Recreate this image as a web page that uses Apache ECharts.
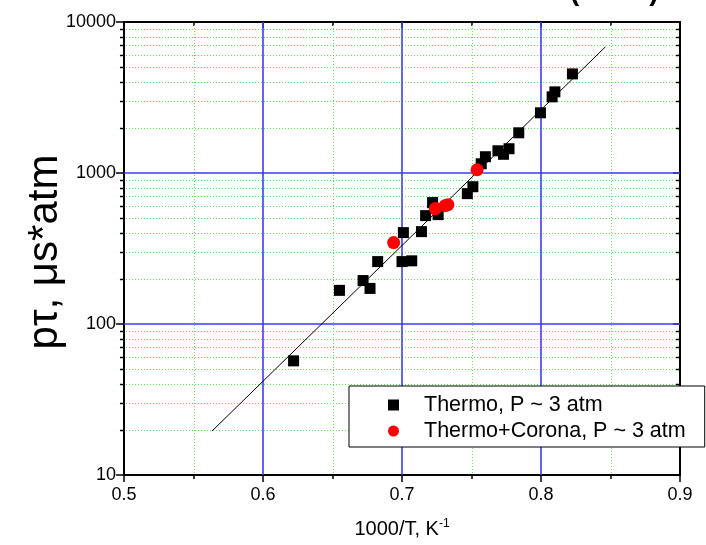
<!DOCTYPE html>
<html>
<head>
<meta charset="utf-8">
<script src="https://cdn.jsdelivr.net/npm/echarts@6/dist/echarts.min.js"></script>
<style>html,body{margin:0;padding:0;background:#fff}#c{width:706px;height:545px}</style>
</head>
<body>
<div id="c"></div>
<script>
const thermoX = [0.622,0.655,0.672,0.677,0.6825,0.701,0.700,0.707,0.714,0.717,0.722,0.726,0.747,0.751,0.757,0.760,0.769,0.773,0.777,0.784,0.7996,0.808,0.810,0.8226];
const thermoY = [57,167,194,172,259,403,259,262,409,522,637,530,730,811,1151,1282,1403,1330,1448,1846,2504,3194,3445,4532];
const coronaX = [0.694,0.724,0.731,0.733,0.754];
const coronaY = [346,581,608,617,1051];
const fitX = [0.5632,0.8463];
const fitY = [19.5,6840];
const xMajorGrid = [0.6,0.7,0.8];
const yMajorGrid = [100,1000];
const xMinor = [0.55,0.65,0.75,0.85];
const yMinor = [20,30,40,50,60,70,80,90,200,300,400,500,600,700,800,900,2000,3000,4000,5000,6000,7000,8000,9000];
const seriesNames = ['Thermo, P ~ 3 atm','Thermo+Corona, P ~ 3 atm'];
const yTitle = 'pτ, μs*atm';

const zip = (a,b)=>a.map((v,i)=>[v,b[i]]);
const font = 'Arial, "Liberation Sans", sans-serif';
const blue = '#3a3aff';
const green = '#55ee55';

const chart = echarts.init(document.getElementById('c'), null, {renderer:'canvas'});
chart.setOption({
  animation:false,
  backgroundColor:'#fff',
  grid:{left:124,right:26,top:22,bottom:70,containLabel:false},
  graphic:[
    {type:'text',left:570,top:-22,style:{text:'(         )',font:'bold 28px '+font,fill:'#000'}},
    {type:'text',x:45,y:252,rotation:Math.PI/2,style:{text:yTitle,font:'42px '+font,fill:'#000',align:'center',verticalAlign:'middle'}}
  ],
  legend:{
    left:349, top:386, orient:'vertical',
    backgroundColor:'#fff', borderColor:'#000', borderWidth:1, borderRadius:0,
    padding:[8,19,5,39], itemGap:4, itemWidth:11, itemHeight:11,
    textStyle:{fontFamily:font,fontSize:21.5,color:'#000',padding:[0,0,0,20]},
    itemStyle:{opacity:1},
    data:[{name:seriesNames[0],icon:'rect'},{name:seriesNames[1],icon:'circle'}]
  },
  xAxis:[{
    type:'value',min:0.5,max:0.9,interval:0.1,position:'bottom',
    name:'{a|1000/T, K}{s|-1}',nameLocation:'middle',nameGap:43,
    nameTextStyle:{rich:{a:{fontFamily:font,fontSize:20,color:'#000'},s:{fontFamily:font,fontSize:12,color:'#000',verticalAlign:'top',padding:[0,0,10,0]}}},
    axisLine:{lineStyle:{color:'#000',width:2}},
    axisTick:{inside:false,length:7,lineStyle:{color:'#000',width:1.5}},
    minorTick:{show:true,splitNumber:2,length:4,lineStyle:{color:'#000',width:1.5}},
    axisLabel:{fontFamily:font,fontSize:18,color:'#000',margin:11,formatter:v=>v.toFixed(1)},
    splitLine:{show:false},minorSplitLine:{show:false}
  },{
    type:'value',min:0.5,max:0.9,interval:0.1,position:'top',
    axisLine:{show:true,lineStyle:{color:'#000',width:2}},
    axisTick:{inside:true,length:6,lineStyle:{color:'#000',width:1.5}},
    minorTick:{show:true,splitNumber:2,length:4,lineStyle:{color:'#000',width:1.5}},
    axisLabel:{show:false},splitLine:{show:false}
  }],
  yAxis:[{
    type:'log',logBase:10,min:10,max:10000,position:'left',
    axisLine:{show:true,lineStyle:{color:'#000',width:2}},
    axisTick:{inside:false,length:8,lineStyle:{color:'#000',width:1.5}},
    axisLabel:{fontFamily:font,fontSize:18,color:'#000',margin:8,formatter:v=>String(Math.round(v))},
    splitLine:{show:false},minorTick:{show:false},minorSplitLine:{show:false}
  },{
    type:'log',logBase:10,min:10,max:10000,position:'right',
    axisLine:{show:true,lineStyle:{color:'#000',width:2}},
    axisTick:{inside:true,length:7,lineStyle:{color:'#000',width:1.5}},
    axisLabel:{show:false},splitLine:{show:false}
  }],
  series:[
    {
      type:'custom',name:'minorY',xAxisIndex:0,yAxisIndex:0,z:1,silent:true,
      data:yMinor.map(v=>[0.5,v]),
      renderItem:(params,api)=>{
        const v = api.value(1);
        const p = api.coord([0.5,v]);
        const q = api.coord([0.9,v]);
        const y = Math.round(p[1])+0.5;
        return {type:'group',children:[
          {type:'line',shape:{x1:p[0]+2,y1:y,x2:q[0]-2,y2:y},style:{stroke:green,lineWidth:1,lineDash:[1,2]}},
          {type:'line',shape:{x1:p[0]-4,y1:y,x2:p[0],y2:y},style:{stroke:'#000',lineWidth:1.5}},
          {type:'line',shape:{x1:q[0]-4,y1:y,x2:q[0],y2:y},style:{stroke:'#000',lineWidth:1.5}}
        ]};
      }
    },
    {
      type:'custom',name:'minorX',xAxisIndex:0,yAxisIndex:0,z:1,silent:true,
      data:xMinor.map(v=>[v,10]),
      renderItem:(params,api)=>{
        const v = api.value(0);
        const p = api.coord([v,10]);
        const q = api.coord([v,10000]);
        const x = Math.round(p[0])+0.5;
        return {type:'line',shape:{x1:x,y1:p[1]-2,x2:x,y2:q[1]+2},style:{stroke:green,lineWidth:1,lineDash:[1,2]}};
      }
    },
    {
      type:'custom',name:'majorX',xAxisIndex:0,yAxisIndex:0,z:1,silent:true,
      data:xMajorGrid.map(v=>[v,10]),
      renderItem:(params,api)=>{
        const v = api.value(0);
        const p = api.coord([v,10]);
        const q = api.coord([v,10000]);
        return {type:'line',shape:{x1:p[0],y1:p[1],x2:p[0],y2:q[1]},style:{stroke:blue,lineWidth:1.6}};
      }
    },
    {
      type:'custom',name:'majorY',xAxisIndex:0,yAxisIndex:0,z:1,silent:true,
      data:yMajorGrid.map(v=>[0.5,v]),
      renderItem:(params,api)=>{
        const v = api.value(1);
        const p = api.coord([0.5,v]);
        const q = api.coord([0.9,v]);
        return {type:'line',shape:{x1:p[0],y1:p[1],x2:q[0],y2:p[1]},style:{stroke:blue,lineWidth:1.6}};
      }
    },
    {type:'line',name:'fit',data:zip(fitX,fitY),symbol:'none',z:2,silent:true,
      lineStyle:{color:'#000',width:1}},
    {type:'scatter',name:seriesNames[0],data:zip(thermoX,thermoY),symbol:'rect',symbolSize:11,z:3,
      itemStyle:{color:'#000',opacity:1}},
    {type:'scatter',name:seriesNames[1],data:zip(coronaX,coronaY),symbol:'circle',symbolSize:13,z:4,
      itemStyle:{color:'#ff0000',opacity:1}}
  ]
});
</script>
</body>
</html>
